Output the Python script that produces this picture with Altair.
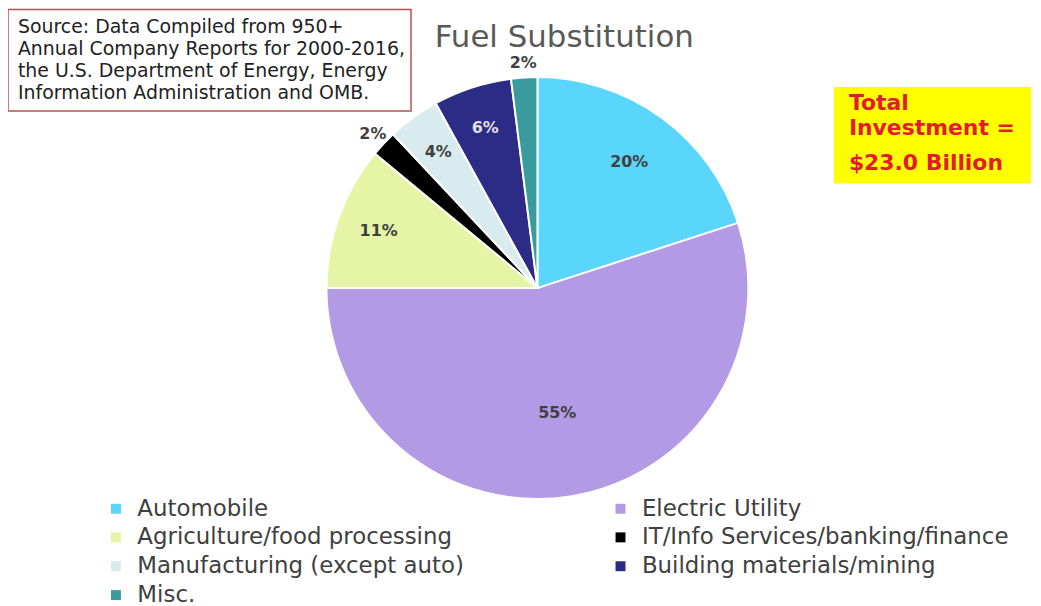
import altair as alt
import pandas as pd

categories = [
    "Automobile",
    "Electric Utility",
    "Agriculture/food processing",
    "IT/Info Services/banking/finance",
    "Manufacturing (except auto)",
    "Building materials/mining",
    "Misc.",
]
shares = [20, 55, 11, 2, 4, 6, 2]
colors = ["#5ad5fb", "#b39ae4", "#e5f5a5", "#000000", "#d8ecef", "#2c2b86", "#3a9b9f"]

title_text = "Fuel Substitution"
source_lines = [
    "Source: Data Compiled from 950+",
    "Annual Company Reports for 2000-2016,",
    "the U.S. Department  of Energy, Energy",
    "Information Administration and OMB.",
]
total_lines = ["Total", "Investment ="]
total_value = "$23.0 Billion"

df = pd.DataFrame({"category": categories, "share": shares, "idx": list(range(len(categories)))})
total = sum(shares)

# legend is laid out column-major by Vega; reorder so it reads row by row (2 columns)
legend_order = [categories[i] for i in range(0, len(categories), 2)] + \
               [categories[i] for i in range(1, len(categories), 2)]
color_map = dict(zip(categories, colors))
legend_colors = [color_map[c] for c in legend_order]

CX, CY, R = 532, 280, 212
FONT = "DejaVu Sans"

theta_scale = alt.Scale(domain=[0, total])

base = alt.Chart(df).transform_window(
    cum="sum(share)", sort=[alt.SortField("idx")], frame=[None, 0]
).transform_calculate(
    start="datum.cum - datum.share",
    mid="datum.cum - datum.share / 2",
)

pie = base.mark_arc(outerRadius=R, stroke="white", strokeWidth=2).encode(
    x=alt.value(CX),
    y=alt.value(CY),
    theta=alt.Theta("start:Q", scale=theta_scale),
    theta2="cum:Q",
    color=alt.Color(
        "category:N",
        scale=alt.Scale(domain=legend_order, range=legend_colors),
        legend=alt.Legend(
            title=None,
            orient="none",
            legendX=97,
            legendY=490,
            columns=2,
            symbolType="square",
            symbolSize=100,
            symbolStrokeWidth=0,
            labelFont=FONT,
            labelFontSize=23,
            labelColor="#404040",
            labelLimit=0,
            labelOffset=10,
            rowPadding=5,
            columnPadding=145,
        ),
    ),
)

labels = base.transform_calculate(
    lab="datum.share + '%'",
    lr=(f"datum.share < 3 ? {R}*1.07 : (datum.share > 50 ? {R}*0.6 : "
        f"(datum.share < 15 ? {R}*0.8 : {R}*0.74))"),
).mark_text(font=FONT, fontSize=16, fontWeight="bold").encode(
    x=alt.value(CX),
    y=alt.value(CY),
    theta=alt.Theta("mid:Q", scale=theta_scale),
    radius=alt.Radius("lr:Q", scale=None),
    text="lab:N",
    color=alt.condition(
        "datum.category == 'Building materials/mining'",
        alt.value("#e0e0e8"),
        alt.value("#404040"),
    ),
)

one = alt.Data(values=[{"a": 1}])

title = alt.Chart(one).mark_text(
    text=title_text, font=FONT, fontSize=31, color="#595959", align="center", baseline="middle"
).encode(x=alt.value(559), y=alt.value(29))

source_box = alt.Chart(one).mark_rect(fill="white", stroke="#b5524f", strokeWidth=1.5).encode(
    x=alt.value(0), x2=alt.value(405), y=alt.value(0), y2=alt.value(102)
)
source_text = alt.Chart(one).mark_text(
    text=source_lines, font=FONT, fontSize=19, color="#222222", align="left",
    baseline="middle", lineHeight=22,
).encode(x=alt.value(10), y=alt.value(18))

total_box = alt.Chart(one).mark_rect(fill="#ffff00").encode(
    x=alt.value(830), x2=alt.value(1028), y=alt.value(78), y2=alt.value(175)
)
total_text1 = alt.Chart(one).mark_text(
    text=total_lines, font=FONT, fontSize=22, fontWeight="bold", color="#e31c2d",
    align="left", baseline="middle", lineHeight=25,
).encode(x=alt.value(845), y=alt.value(94))
total_text2 = alt.Chart(one).mark_text(
    text=total_value, font=FONT, fontSize=22, fontWeight="bold", color="#e31c2d",
    align="left", baseline="middle",
).encode(x=alt.value(845), y=alt.value(154))

chart = alt.layer(
    pie, labels, title, source_box, source_text, total_box, total_text1, total_text2
).properties(
    width=1030, height=598, padding=0, autosize=alt.AutoSizeParams(type="none"),
    background="white",
).configure_view(stroke=None)

chart.save("out.html", embed_options={"renderer": "svg", "actions": False})
